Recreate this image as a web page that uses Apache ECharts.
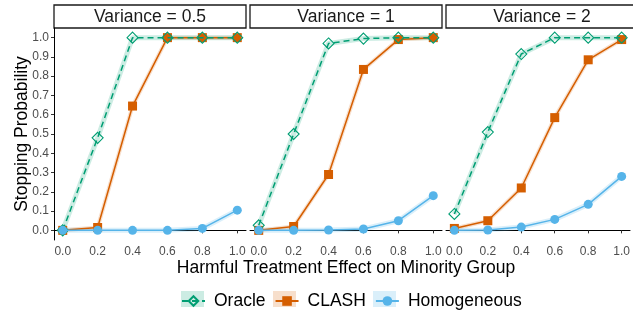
<!DOCTYPE html>
<html>
<head>
<meta charset="utf-8">
<script src="https://cdn.jsdelivr.net/npm/echarts@6.0.0/dist/echarts.min.js"></script>
<style>
  html, body { margin: 0; padding: 0; background: #fff; }
  #chart { width: 633px; height: 311px; }
</style>
</head>
<body>
<div id="chart"></div>
<script>
// harmful treatment effect values (x) and tick labels
const effects = [0, 0.2, 0.4, 0.6, 0.8, 1.0]
const xTicks = [0, 0.2, 0.4, 0.6, 0.8, 1.0]
const yTicks = [0, 0.1, 0.2, 0.3, 0.4, 0.5, 0.6, 0.7, 0.8, 0.9, 1.0]
const variances = ['0.5', '1', '2']
const methods = ['Oracle', 'CLASH', 'Homogeneous']

// stopping probability per method, one array per variance panel
const oracleV05 = [0, 0.48, 1, 1, 1, 1]
const oracleV1 = [0.026, 0.5, 0.97, 0.995, 1, 1]
const oracleV2 = [0.085, 0.51, 0.915, 1, 1, 1]
const clashV05 = [0, 0.015, 0.645, 1, 1, 1]
const clashV1 = [0, 0.02, 0.29, 0.835, 0.99, 1]
const clashV2 = [0.01, 0.05, 0.22, 0.585, 0.885, 0.99]
const homogV05 = [0, 0, 0, 0, 0.01, 0.105]
const homogV1 = [0, 0, 0.002, 0.007, 0.05, 0.18]
const homogV2 = [0, 0.002, 0.017, 0.057, 0.135, 0.28]

const panels = [
  { oracle: oracleV05, clash: clashV05, homog: homogV05 },
  { oracle: oracleV1, clash: clashV1, homog: homogV1 },
  { oracle: oracleV2, clash: clashV2, homog: homogV2 }
]

const colors = { Oracle: '#009E73', CLASH: '#D55E00', Homogeneous: '#56B4E9' }
const bands = {
  Oracle: 'rgba(0,158,115,0.2)',
  CLASH: 'rgba(213,94,0,0.2)',
  Homogeneous: 'rgba(86,180,233,0.22)'
}

// layout
const panelLeft = 54
const panelWidth = 192
const panelStep = 196
const panelTop = 28
const panelHeight = 212
const stripTop = 5
const tickFont = 'Liberation Sans, Arial, sans-serif'

const grids = []
const xAxes = []
const yAxes = []
const series = []
const graphics = []

function pairs(values) {
  return effects.map((x, j) => [x, values[j]])
}

panels.forEach((p, i) => {
  const left = panelLeft + i * panelStep
  grids.push({ left: left, top: panelTop, width: panelWidth, height: panelHeight })
  xAxes.push({
    gridIndex: i,
    type: 'value',
    min: -0.05,
    max: 1.05,
    axisLine: { show: true, lineStyle: { color: '#000', width: 1 } },
    axisTick: { show: true, length: 3, customValues: xTicks, lineStyle: { color: '#333' } },
    axisLabel: {
      customValues: xTicks,
      margin: 6,
      color: '#4D4D4D',
      fontSize: 12,
      fontFamily: tickFont,
      formatter: v => v.toFixed(1)
    },
    splitLine: { show: false }
  })
  yAxes.push({
    gridIndex: i,
    type: 'value',
    min: -0.05,
    max: 1.05,
    axisLine: { show: i === 0, onZero: false, lineStyle: { color: '#000', width: 1 } },
    axisTick: { show: i === 0, length: 3, customValues: yTicks, lineStyle: { color: '#333' } },
    axisLabel: {
      show: i === 0,
      customValues: yTicks,
      margin: 5,
      color: '#4D4D4D',
      fontSize: 12,
      fontFamily: tickFont,
      formatter: v => v.toFixed(1)
    },
    splitLine: { show: false }
  })

  const byName = { Oracle: p.oracle, CLASH: p.clash, Homogeneous: p.homog }

  // confidence bands, drawn as wide translucent lines under the main lines
  methods.forEach(m => {
    series.push({
      name: m + ' band',
      type: 'line',
      xAxisIndex: i,
      yAxisIndex: i,
      data: pairs(byName[m]),
      symbol: 'none',
      silent: true,
      z: 1,
      lineStyle: { color: bands[m], width: m === 'CLASH' ? 4 : 5 }
    })
  })

  series.push({
    name: 'CLASH',
    type: 'line',
    xAxisIndex: i,
    yAxisIndex: i,
    data: pairs(p.clash),
    symbol: 'rect',
    symbolSize: 9,
    z: 2,
    lineStyle: { color: colors.CLASH, width: 1.5 },
    itemStyle: { color: colors.CLASH }
  })
  series.push({
    name: 'Oracle',
    type: 'line',
    xAxisIndex: i,
    yAxisIndex: i,
    data: pairs(p.oracle),
    symbol: 'diamond',
    symbolSize: 11,
    z: 3,
    lineStyle: { color: colors.Oracle, width: 1.5, type: [6, 4] },
    itemStyle: { color: 'rgba(255,255,255,0)', borderColor: colors.Oracle, borderWidth: 1.1 }
  })
  series.push({
    name: 'Homogeneous',
    type: 'line',
    xAxisIndex: i,
    yAxisIndex: i,
    data: pairs(p.homog),
    symbol: 'circle',
    symbolSize: 9,
    z: 4,
    lineStyle: { color: colors.Homogeneous, width: 1.5 },
    itemStyle: { color: colors.Homogeneous }
  })

  // facet strip
  graphics.push({
    type: 'rect',
    shape: { x: left, y: stripTop, width: panelWidth, height: panelTop - stripTop },
    style: { fill: '#fff', stroke: '#1A1A1A', lineWidth: 1.3 }
  })
  graphics.push({
    type: 'text',
    x: left + panelWidth / 2,
    y: stripTop + (panelTop - stripTop) / 2 + 1,
    style: {
      text: 'Variance = ' + variances[i],
      fill: '#1A1A1A',
      font: '17.5px "Liberation Sans", Arial, sans-serif',
      textAlign: 'center',
      textVerticalAlign: 'middle'
    }
  })
})

// axis titles
graphics.push({
  type: 'text',
  x: 346,
  y: 268,
  style: {
    text: 'Harmful Treatment Effect on Minority Group',
    fill: '#000',
    font: '17.5px "Liberation Sans", Arial, sans-serif',
    textAlign: 'center',
    textVerticalAlign: 'middle'
  }
})
graphics.push({
  type: 'text',
  x: 22,
  y: 134,
  rotation: Math.PI / 2,
  style: {
    text: 'Stopping Probability',
    fill: '#000',
    font: '17.5px "Liberation Sans", Arial, sans-serif',
    textAlign: 'center',
    textVerticalAlign: 'middle'
  }
})

// legend key backgrounds
const keyLefts = [181, 273, 373]
methods.forEach((m, k) => {
  graphics.push({
    type: 'rect',
    z: -1,
    shape: { x: keyLefts[k], y: 291, width: 23, height: 16 },
    style: { fill: bands[m] }
  })
})

const chart = echarts.init(document.getElementById('chart'), null, { renderer: 'canvas' })
chart.setOption({
  animation: false,
  backgroundColor: '#fff',
  grid: grids,
  xAxis: xAxes,
  yAxis: yAxes,
  legend: {
    data: methods,
    left: 181,
    top: 292,
    padding: 0,
    itemWidth: 23,
    itemHeight: 12,
    itemGap: 9,
    textStyle: {
      fontSize: 17.5,
      color: '#000',
      fontFamily: tickFont,
      padding: [0, 0, 0, 4]
    }
  },
  graphic: graphics,
  series: series
})
</script>
</body>
</html>
